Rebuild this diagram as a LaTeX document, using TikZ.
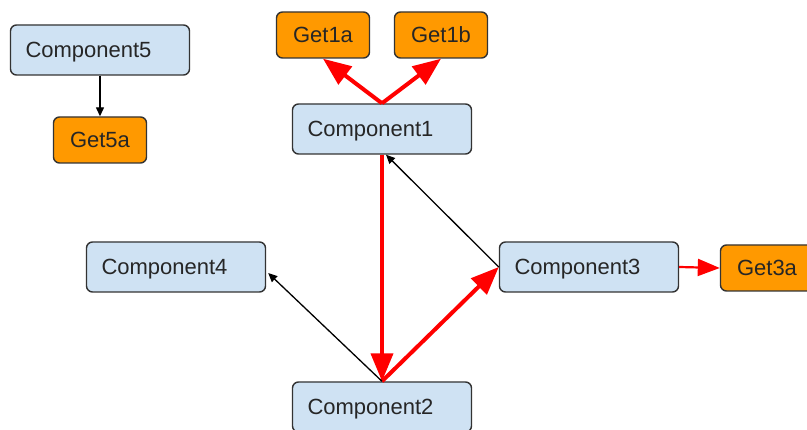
\documentclass[tikz,border=0pt]{standalone}
\usepackage{fontspec}
\setmainfont{Liberation Sans}
\usetikzlibrary{arrows.meta}
\definecolor{compfill}{HTML}{CFE2F3}
\definecolor{getfill}{HTML}{FF9900}
\definecolor{edgegray}{HTML}{333333}
\begin{document}
\begin{tikzpicture}[x=1pt,y=-1pt,
  box/.style={draw=edgegray, line width=1.4pt, rounded corners=6pt,
    font=\fontsize{22}{26}\selectfont, text=black!85},
  comp/.style={box, fill=compfill, minimum width=179pt, minimum height=50pt,
    text width=149pt, inner xsep=15pt, align=left, text depth=0pt},
  getbox/.style={box, fill=getfill, minimum width=93pt, minimum height=46pt},
  thin/.style={draw=black, line width=1.3pt, -{Triangle[length=9pt,width=8pt]}},
  flow/.style={draw=red, line width=4pt, -{Triangle[length=28pt,width=22pt]}},
  flowthin/.style={draw=red, line width=2.2pt, -{Triangle[length=22pt,width=17pt]}}
]
\clip (0,0) rectangle (807,430);
\fill[white] (0,0) rectangle (807,430);

% components
\node[comp] (c5) at (100,50) {Component5};
\node[comp] (c1) at (382,129) {Component1};
\node[comp] (c4) at (176,267) {Component4};
\node[comp] (c3) at (589,267) {Component3};
\node[comp] (c2) at (382,407) {Component2};

% getters
\node[getbox] (g5a) at (100,140) {Get5a};
\node[getbox] (g1a) at (323,35) {Get1a};
\node[getbox] (g1b) at (441,35) {Get1b};
\node[getbox] (g3a) at (767,268) {Get3a};

% connectors
\draw[thin] (c5.south) -- (g5a.north);
\draw[flow] (c1.north) -- (g1a.south);
\draw[flow] (c1.north) -- (g1b.south);
\draw[flow] (c1.south) -- (c2.north);
\draw[flow] (c2.north) -- (c3.west);
\draw[thin] (c3.west) -- ([xshift=4pt]c1.south);
\draw[thin] (c2.north) -- ([xshift=2pt,yshift=-6pt]c4.east);
\draw[flowthin] (c3.east) -- (g3a.west);
\end{tikzpicture}
\end{document}
